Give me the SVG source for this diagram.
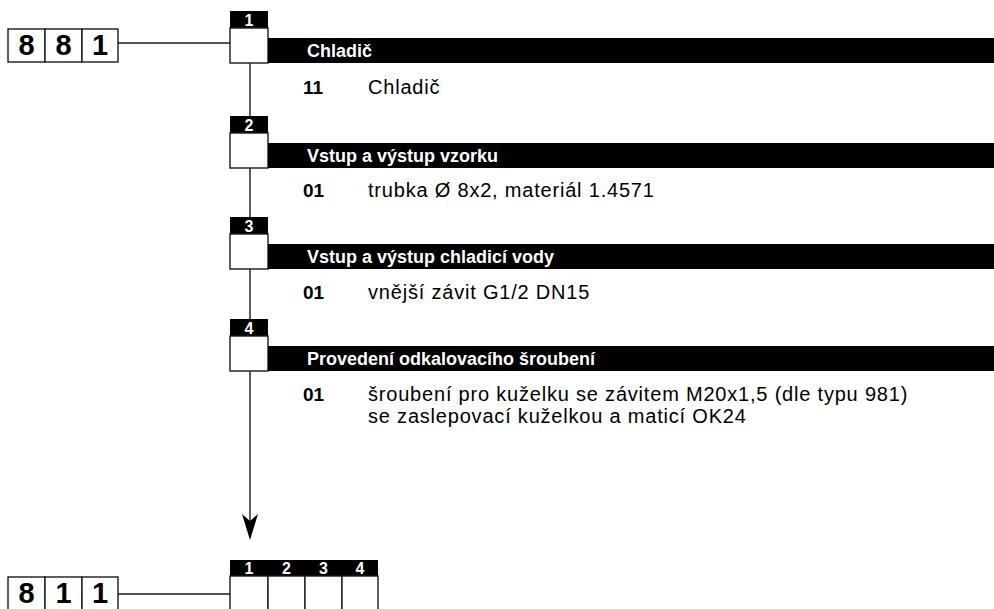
<svg xmlns="http://www.w3.org/2000/svg" width="994" height="609" viewBox="0 0 994 609">
<style>
.ln{stroke:#1a1a1a;stroke-width:1.4;fill:none}
.cell{fill:#fff;stroke:#1a1a1a;stroke-width:1.4}
.blk{fill:#000}
.tabn{font-family:"Liberation Sans",Arial,sans-serif;font-weight:bold;font-size:16px;fill:#fff;text-anchor:middle}
.hdr{font-family:"Liberation Sans",Arial,sans-serif;font-weight:bold;font-size:18px;fill:#fff}
.num{font-family:"Liberation Sans",Arial,sans-serif;font-weight:bold;font-size:19px;fill:#000}
.txt{font-family:"Liberation Sans",Arial,sans-serif;font-size:20px;letter-spacing:0.8px;fill:#000}
.big{font-family:"Liberation Sans",Arial,sans-serif;font-weight:bold;font-size:29px;fill:#000;text-anchor:middle}
</style>
<g id="connectors">
<line class="ln" x1="118" y1="43" x2="230" y2="43"/>
<line class="ln" x1="250" y1="63" x2="250" y2="116"/>
<line class="ln" x1="250" y1="168" x2="250" y2="217"/>
<line class="ln" x1="250" y1="269" x2="250" y2="319"/>
<line class="ln" x1="250" y1="371" x2="250" y2="522"/>
<path d="M250,540 L242,514 L250,521 L258,514 Z" fill="#000"/>
<line class="ln" x1="118" y1="594" x2="230" y2="594"/>
</g>
<g id="code881">
<rect class="cell" x="8" y="29" width="37" height="33"/>
<rect class="cell" x="45" y="29" width="37" height="33"/>
<rect class="cell" x="82" y="29" width="36" height="33"/>
<text class="big" x="26.5" y="55">8</text>
<text class="big" x="63.5" y="55">8</text>
<text class="big" x="100" y="55">1</text>
</g>
<g id="node1">
<rect class="blk" x="230" y="11" width="38" height="17"/>
<text class="tabn" x="249" y="26">1</text>
<rect class="cell" x="230" y="28" width="38" height="35"/>
<rect class="blk" x="268" y="38" width="726" height="25"/>
<text class="hdr" x="307" y="57">Chladič</text>
<text class="num" x="303" y="94">11</text>
<text class="txt" x="368" y="94">Chladič</text>
</g>
<g id="node2">
<rect class="blk" x="230" y="116" width="38" height="17"/>
<text class="tabn" x="249" y="131">2</text>
<rect class="cell" x="230" y="133" width="38" height="35"/>
<rect class="blk" x="268" y="143" width="726" height="25"/>
<text class="hdr" x="307" y="162">Vstup a výstup vzorku</text>
<text class="num" x="303" y="197">01</text>
<text class="txt" x="368" y="197">trubka Ø 8x2, materiál 1.4571</text>
</g>
<g id="node3">
<rect class="blk" x="230" y="217" width="38" height="17"/>
<text class="tabn" x="249" y="232">3</text>
<rect class="cell" x="230" y="234" width="38" height="35"/>
<rect class="blk" x="268" y="244" width="726" height="25"/>
<text class="hdr" x="307" y="263">Vstup a výstup chladicí vody</text>
<text class="num" x="303" y="299">01</text>
<text class="txt" x="368" y="299">vnější závit G1/2 DN15</text>
</g>
<g id="node4">
<rect class="blk" x="230" y="319" width="38" height="17"/>
<text class="tabn" x="249" y="334">4</text>
<rect class="cell" x="230" y="336" width="38" height="35"/>
<rect class="blk" x="268" y="346" width="726" height="25"/>
<text class="hdr" x="307" y="365">Provedení odkalovacího šroubení</text>
<text class="num" x="303" y="401">01</text>
<text class="txt" x="368" y="401">šroubení pro kuželku se závitem M20x1,5 (dle typu 981)</text>
<text class="txt" x="368" y="423">se zaslepovací kuželkou a maticí OK24</text>
</g>
<g id="code811">
<rect class="cell" x="8" y="577" width="37" height="34"/>
<rect class="cell" x="45" y="577" width="37" height="34"/>
<rect class="cell" x="82" y="577" width="36" height="34"/>
<text class="big" x="26.5" y="603">8</text>
<text class="big" x="63.5" y="603">1</text>
<text class="big" x="100" y="603">1</text>
</g>
<g id="result">
<rect class="blk" x="230" y="560" width="148" height="16"/>
<text class="tabn" x="249" y="574">1</text>
<text class="tabn" x="286.5" y="574">2</text>
<text class="tabn" x="323.5" y="574">3</text>
<text class="tabn" x="360" y="574">4</text>
<rect class="cell" x="230" y="576" width="38" height="35"/>
<rect class="cell" x="268" y="576" width="37" height="35"/>
<rect class="cell" x="305" y="576" width="37" height="35"/>
<rect class="cell" x="342" y="576" width="36" height="35"/>
</g>
</svg>
